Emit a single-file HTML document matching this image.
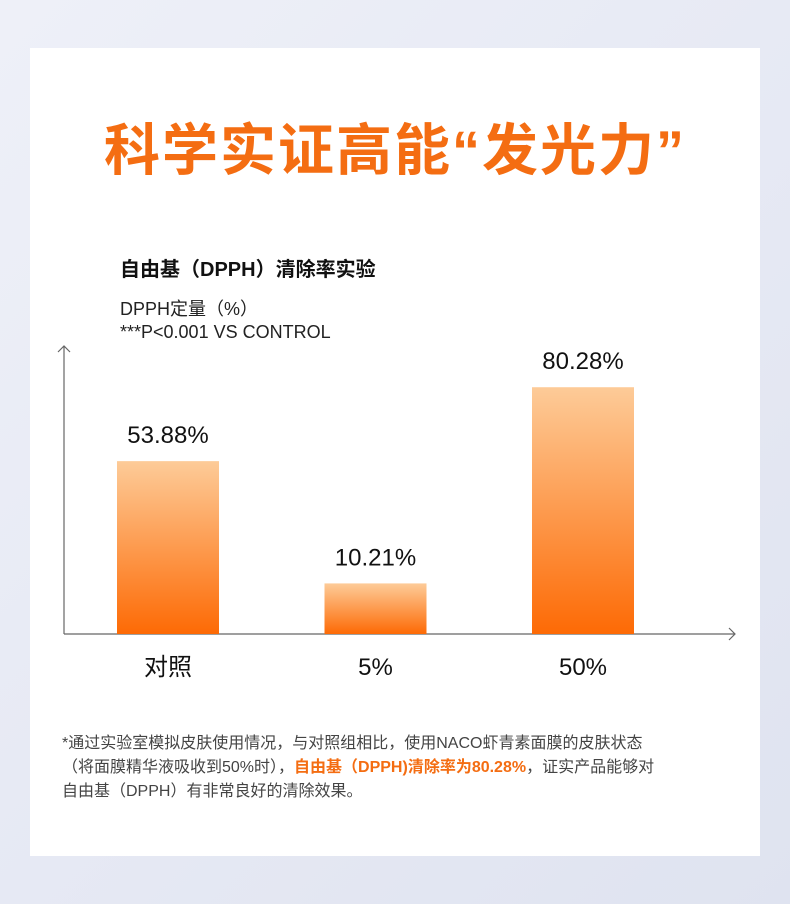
<!DOCTYPE html>
<html><head><meta charset="utf-8"><style>
body{margin:0;width:790px;height:904px;overflow:hidden;background:linear-gradient(135deg,#eef0f8,#dfe3f0);font-family:"Liberation Sans","Noto Sans CJK SC",sans-serif;position:relative}
.card{position:absolute;left:30px;top:48px;width:730px;height:808px;background:#fff}
.t{position:absolute;white-space:nowrap}
</style></head><body>
<div class="card"></div>
<div class="t" style="left:0;width:790px;text-align:center;top:106px;font-size:56px;font-weight:bold;color:#f46d12;letter-spacing:2px">科学实证高能“发光力”</div>
<div class="t" style="left:120px;top:253px;font-size:20px;font-weight:bold;color:#111">自由基（DPPH）清除率实验</div>
<div class="t" style="left:120px;top:295px;font-size:18px;color:#222">DPPH定量（%）</div>
<div class="t" style="left:120px;top:322px;font-size:18px;color:#222">***P&lt;0.001 VS CONTROL</div>
<svg id="c" width="790" height="904" style="position:absolute;left:0;top:0">
<defs><linearGradient id="g" x1="0" y1="0" x2="0" y2="1"><stop offset="0" stop-color="#fdcb98"/><stop offset="1" stop-color="#fd6a05"/></linearGradient></defs>
<g stroke="#666" fill="none" stroke-width="1.2">
<path d="M64 634V346M58 352L64 346L70 352"/>
<path d="M64 634H735M729 628L735 634L729 640"/>
</g>
</svg>
<div class="t" style="left:62px;top:732px;font-size:16px;line-height:24px;color:#444">*通过实验室模拟皮肤使用情况，与对照组相比，使用NACO虾青素面膜的皮肤状态<br>（将面膜精华液吸收到50%时），<b style="color:#f46d12">自由基（DPPH)清除率为80.28%</b>，证实产品能够对<br>自由基（DPPH）有非常良好的清除效果。</div>
<script>
const categories=["对照","5%","50%"];
const values=[53.88,10.21,80.28];
const valueLabels=["53.88%","10.21%","80.28%"];
const svg=document.getElementById('c'),NS='http://www.w3.org/2000/svg';
const base=634;
function yScale(v){return base-(2.8*v+22);}
function xCenter(i){return 168+i*207.5;}
const bw=102;
categories.forEach((c,i)=>{
 const y=yScale(values[i]);
 const r=document.createElementNS(NS,'rect');
 r.setAttribute('x',xCenter(i)-bw/2);r.setAttribute('y',y);r.setAttribute('width',bw);r.setAttribute('height',base-y);r.setAttribute('fill','url(#g)');
 
 
 svg.appendChild(r);
 const t=document.createElementNS(NS,'text');
 t.setAttribute('x',xCenter(i));t.setAttribute('y',y-18);t.setAttribute('text-anchor','middle');t.setAttribute('font-size','24');t.setAttribute('fill','#111');t.textContent=valueLabels[i];
 
 
 svg.appendChild(t);
 const l=document.createElementNS(NS,'text');
 l.setAttribute('x',xCenter(i));l.setAttribute('y',675);l.setAttribute('text-anchor','middle');l.setAttribute('font-size','24');l.setAttribute('fill','#111');l.textContent=c;
 
 
 svg.appendChild(l);
});
</script>
</body></html>
